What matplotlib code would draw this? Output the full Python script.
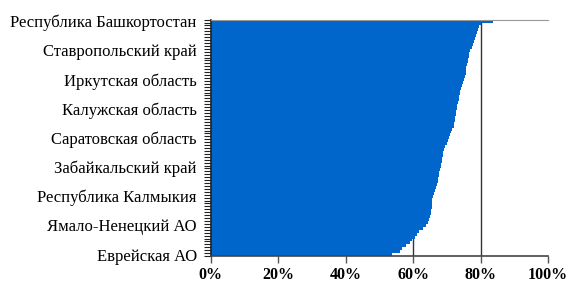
import numpy as np
import matplotlib.pyplot as plt
from matplotlib.ticker import FixedLocator, PercentFormatter

# share of the indicator by region, sorted ascending (bottom bar first)
values = [
    0.536, 0.560, 0.566, 0.580, 0.590, 0.596, 0.606, 0.612, 0.617, 0.630,
    0.638, 0.644, 0.647, 0.650, 0.652, 0.654, 0.655, 0.655, 0.655, 0.657,
    0.660, 0.663, 0.665, 0.668, 0.671, 0.673, 0.675, 0.677, 0.678, 0.680,
    0.681, 0.683, 0.685, 0.686, 0.687, 0.688, 0.691, 0.695, 0.699, 0.703,
    0.706, 0.710, 0.713, 0.716, 0.720, 0.722, 0.724, 0.725, 0.727, 0.728,
    0.729, 0.731, 0.733, 0.735, 0.736, 0.738, 0.740, 0.742, 0.744, 0.747,
    0.751, 0.754, 0.756, 0.757, 0.758, 0.760, 0.762, 0.763, 0.765, 0.766,
    0.769, 0.773, 0.777, 0.780, 0.784, 0.787, 0.790, 0.793, 0.796, 0.800,
    0.836,
]

# only every 10th region is labelled on the axis
shown_labels = [
    'Еврейская АО', 'Ямало-Ненецкий АО', 'Республика Калмыкия',
    'Забайкальский край', 'Саратовская область', 'Калужская область',
    'Иркутская область', 'Ставропольский край', 'Республика Башкортостан',
]
label_step = 10

x_ticks = [0, 0.2, 0.4, 0.6, 0.8, 1.0]
grid_at = [0.2, 0.4, 0.6, 0.8]

plt.rcParams['font.family'] = ['Liberation Serif', 'DejaVu Serif']

fig = plt.figure(figsize=(5.71, 2.88), dpi=100)
ax = fig.add_axes([0.369, 0.111, 0.591, 0.821])

pos = np.arange(len(values))
ax.barh(pos, values, height=1.0, color='#0066CC', linewidth=0, zorder=2)

ax.set_xlim(0, 1)
ax.set_ylim(-0.5, len(values) - 0.5)

for g in grid_at:
    ax.axvline(g, color='#333333', linewidth=1, zorder=1)

ax.set_xticks(x_ticks)
ax.xaxis.set_major_formatter(PercentFormatter(1.0, decimals=0))
for t in ax.get_xticklabels():
    t.set_fontweight('bold')
ax.tick_params(axis='x', length=5, width=1, color='#555555', labelsize=11.5, pad=3)

ax.set_yticks(pos[::label_step])
ax.set_yticklabels(shown_labels)
ax.yaxis.set_minor_locator(FixedLocator(np.arange(-0.5, len(values), 1.0)))
ax.tick_params(axis='y', which='major', length=0, labelsize=12, pad=10)
ax.tick_params(axis='y', which='minor', length=5, width=0.8, color='#222222')

ax.spines['left'].set_color('#222222')
ax.spines['left'].set_linewidth(1.2)
ax.spines['bottom'].set_color('#444444')
ax.spines['bottom'].set_linewidth(1.2)
ax.spines['top'].set_color('#999999')
ax.spines['right'].set_visible(False)

fig.savefig('out.png', dpi=100)
